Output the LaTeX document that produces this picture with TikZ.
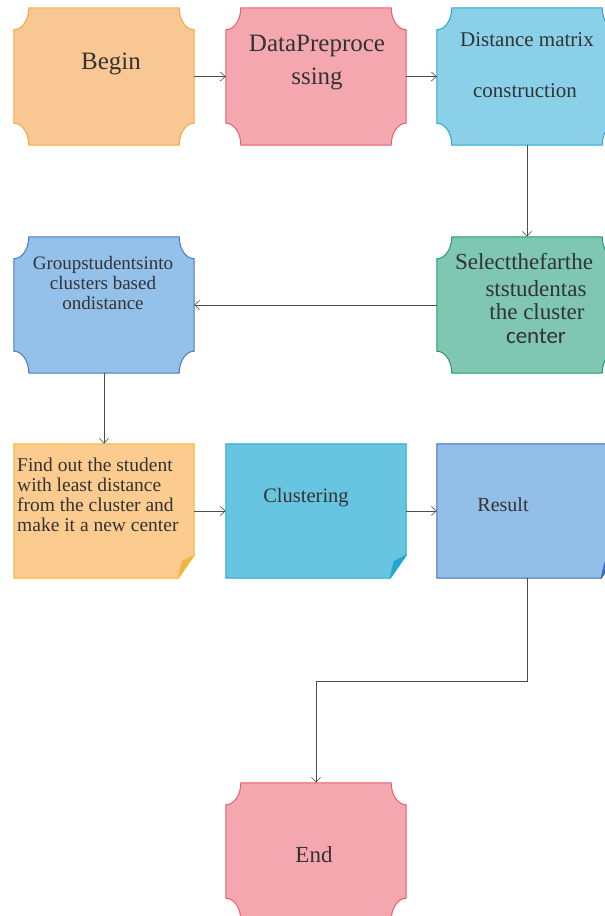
\documentclass[tikz,border=0pt]{standalone}
\usepackage{fontspec}
\setmainfont{Liberation Serif}
\newfontfamily\calfont{Carlito}
\usepackage{xcolor}
\usetikzlibrary{arrows.meta}

\definecolor{txt}{HTML}{333333}
\definecolor{line}{HTML}{4D4D4D}
\definecolor{begfill}{HTML}{F9C794}
\definecolor{begdraw}{HTML}{F5A940}
\definecolor{pinkfill}{HTML}{F4A7AE}
\definecolor{pinkdraw}{HTML}{E8606E}
\definecolor{cyanfill}{HTML}{8AD0E8}
\definecolor{cyandraw}{HTML}{2BA8D3}
\definecolor{bluefill}{HTML}{94C1EA}
\definecolor{bluedraw}{HTML}{4A78BE}
\definecolor{greenfill}{HTML}{7FC7B1}
\definecolor{greendraw}{HTML}{1E9C74}
\definecolor{notefill}{HTML}{FBCB8F}
\definecolor{notedraw}{HTML}{F7B92A}
\definecolor{noteflap}{HTML}{F0B445}
\definecolor{clufill}{HTML}{68C5E2}
\definecolor{cludraw}{HTML}{22A6CF}
\definecolor{resfill}{HTML}{93BEE8}
\definecolor{resdraw}{HTML}{3E6DBA}

% box with hollow corners round node #1
\newcommand\cutbox[3]{%
	\path[fill=#2,draw=#3,line width=1pt]
		([xshift=15pt]#1.north west) -- ([xshift=-15pt]#1.north east)
		arc[start angle=180,end angle=270,x radius=15pt,y radius=22pt]
		-- ([yshift=22pt]#1.south east)
		arc[start angle=90,end angle=180,x radius=15pt,y radius=22pt]
		-- ([xshift=15pt]#1.south west)
		arc[start angle=0,end angle=90,x radius=15pt,y radius=22pt]
		-- ([yshift=-22pt]#1.north west)
		arc[start angle=270,end angle=360,x radius=15pt,y radius=22pt]
		-- cycle;}

% box with folded corner round node #1
\newcommand\foldbox[4]{%
	\path[fill=#2,draw=#3,line width=1pt]
		(#1.north west) -- (#1.north east) -- ([yshift=23pt]#1.south east)
		-- ([xshift=-16pt]#1.south east) -- (#1.south west) -- cycle;
	\path[fill=#4,draw=#3,line width=0.6pt]
		([yshift=23pt]#1.south east) -- ([xshift=-16pt]#1.south east)
		.. controls ([xshift=-14pt,yshift=10pt]#1.south east) .. ([xshift=-12pt,yshift=17pt]#1.south east)
		-- cycle;}

\begin{document}
\begin{tikzpicture}[x=1pt,y=1pt,
		blk/.style={minimum width=180pt,inner sep=0pt},
		lbl/.style={anchor=base,inner sep=0pt,text=txt},
		lblw/.style={anchor=base west,inner sep=0pt,text=txt},
		arr/.style={-{Straight Barb[length=5pt,width=9pt]},draw=line,line width=0.6pt}]
		\useasboundingbox (0,0) rectangle (605,916);
		\fill[white] (0,0) rectangle (605,916);
		\clip (0,0) rectangle (605,916);

		\node[blk,minimum height=137pt] (begin) at (104,839.5) {};
		\node[blk,minimum height=137pt] (prep) at (316,839.5) {};
		\node[blk,minimum height=137pt] (dist) at (527,839.5) {};
		\node[blk,minimum height=136pt] (group) at (104,611) {};
		\node[blk,minimum height=136pt] (select) at (527,611) {};
		\node[blk,minimum height=134pt] (find) at (104,405) {};
		\node[blk,minimum height=134pt] (clust) at (316,405) {};
		\node[blk,minimum height=134pt] (result) at (527,405) {};
		\node[blk,minimum height=137pt] (end) at (316,64.5) {};

		\cutbox{begin}{begfill}{begdraw}
		\cutbox{prep}{pinkfill}{pinkdraw}
		\cutbox{dist}{cyanfill}{cyandraw}
		\cutbox{group}{bluefill}{bluedraw}
		\cutbox{select}{greenfill}{greendraw}
		\foldbox{find}{notefill}{notedraw}{noteflap}
		\foldbox{clust}{clufill}{cludraw}{cludraw}
		\foldbox{result}{resfill}{resdraw}{resdraw}
		\cutbox{end}{pinkfill}{pinkdraw}

		\node[lbl,font=\fontsize{25}{25}\selectfont] (begintxt) at (111,846) {Begin};
		\node[lbl,font=\fontsize{25}{25}\selectfont] (preptxta) at (317,864) {DataPreproce};
		\node[lbl,font=\fontsize{25}{25}\selectfont] (preptxtb) at (317,831) {ssing};
		\node[lbl,font=\fontsize{21}{21}\selectfont] (disttxta) at (527,869) {Distance matrix};
		\node[lbl,font=\fontsize{21}{21}\selectfont] (disttxtb) at (525,818) {construction};
		\node[lbl,font=\fontsize{19}{19}\selectfont] (grouptxta) at (103,646) {Groupstudentsinto};
		\node[lbl,font=\fontsize{19}{19}\selectfont] (grouptxtb) at (103,626) {clusters based};
		\node[lbl,font=\fontsize{19}{19}\selectfont] (grouptxtc) at (103,606) {ondistance};
		\node[lbl,font=\fontsize{23}{23}\selectfont] (seltxta) at (524,646) {Selectthefarthe};
		\node[lbl,font=\fontsize{23}{23}\selectfont] (seltxtb) at (536,619) {ststudentas};
		\node[lbl,font=\fontsize{23}{23}\selectfont] (seltxtc) at (537,596) {the cluster};
		\node[lbl,font=\calfont\fontsize{23}{23}\selectfont] (seltxtd) at (536,572) {center};
		\node[lblw,font=\fontsize{19.5}{19.5}\selectfont] (findtxta) at (17,444) {Find out the student};
		\node[lblw,font=\fontsize{19.5}{19.5}\selectfont] (findtxtb) at (17,424) {with least distance};
		\node[lblw,font=\fontsize{19.5}{19.5}\selectfont] (findtxtc) at (17,404) {from the cluster and};
		\node[lblw,font=\fontsize{19.5}{19.5}\selectfont] (findtxtd) at (17,384) {make it a new center};
		\node[lbl,font=\fontsize{20.5}{20.5}\selectfont] (clusttxt) at (306,413) {Clustering};
		\node[lbl,font=\fontsize{20}{20}\selectfont] (resulttxt) at (503,404) {Result};
		\node[lbl,font=\fontsize{23}{23}\selectfont] (endtxt) at (314,53) {End};

		\draw[arr] (begin) -- (prep);
		\draw[arr] (prep) -- (dist);
		\draw[arr] (dist) -- (select);
		\draw[arr] (select) -- (group);
		\draw[arr] (group) -- (find);
		\draw[arr] (find) -- (clust);
		\draw[arr] (clust) -- (result);
		\coordinate (turn) at (527,235);
		\draw[arr] (result.south) -- (turn) -| (end.north);
\end{tikzpicture}
\end{document}
